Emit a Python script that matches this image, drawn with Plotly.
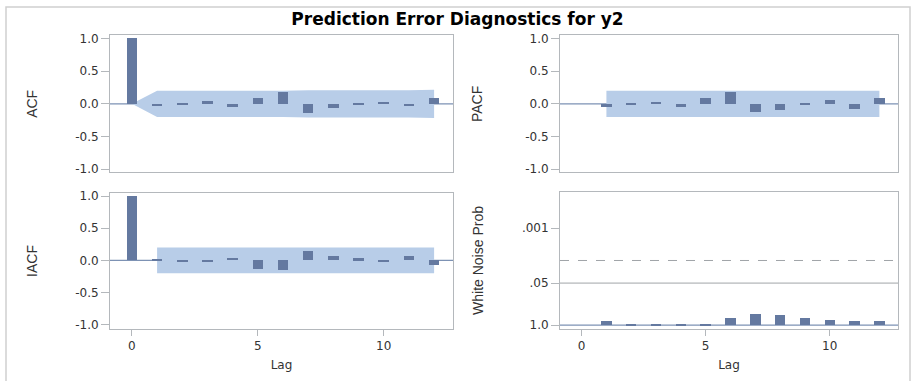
import plotly.graph_objects as go

lags = list(range(0, 13))
acf = [1.0, -0.045, -0.01, 0.04, -0.06, 0.08, 0.18, -0.14, -0.07, -0.01, 0.03, -0.04, 0.09]
acf_band = [0.0, 0.20, 0.20, 0.20, 0.20, 0.20, 0.20, 0.21, 0.21, 0.21, 0.21, 0.21, 0.215]
pacf_lags = list(range(1, 13))
pacf = [-0.05, -0.01, 0.03, -0.06, 0.08, 0.18, -0.13, -0.10, -0.03, 0.05, -0.08, 0.08]
pacf_band = [0.2] * 12
iacf = [1.0, 0.01, -0.02, -0.03, 0.04, -0.13, -0.15, 0.14, 0.07, 0.03, -0.03, 0.07, -0.07]
iacf_band = [0.2] * 12
wn_lags = list(range(1, 13))
wn_logp = [0.14, 0.03, 0.01, 0.01, 0.03, 0.22, 0.36, 0.32, 0.22, 0.17, 0.12, 0.14]
wn_tickvals = [3, 1.30103, 0]
wn_ticktext = [".001", ".05", "1.0"]
corr_ticks = [1.0, 0.5, 0.0, -0.5, -1.0]
corr_ticktext = ["1.0", "0.5", "0.0", "-0.5", "-1.0"]

BAR = "#6479a0"
BAND = "#b8cde8"
FRAME = "#b4b8bc"
ZERO = "#7d92b4"
TICKFONT = "DejaVu Sans, sans-serif"
TITLEFONT = "Liberation Sans, Arial, sans-serif"

W, H = 915, 381
def px(x): return x / W
def py(y): return 1 - y / H

fig = go.Figure()

def band(xs, ups, ax):
    pts = list(zip(xs, ups)) + list(zip(xs[::-1], [-u for u in ups[::-1]]))
    path = "M " + " L ".join(f"{x},{y}" for x, y in pts) + " Z"
    fig.add_shape(type="path", path=path, xref="x" + ax, yref="y" + ax,
                  fillcolor=BAND, line=dict(width=0), layer="below")

def bars(xs, ys, ax):
    fig.add_trace(go.Bar(x=xs, y=ys, width=0.42, marker=dict(color=BAR, line=dict(width=0)),
                         showlegend=False, xaxis="x" + ax, yaxis="y" + ax))

band(lags, acf_band, "")
band(pacf_lags, pacf_band, "2")
band(pacf_lags, iacf_band, "3")
for ax in ["", "2", "3", "4"]:
    fig.add_shape(type="line", xref=("x" + ax + " domain"), yref=("y" + ax),
                  x0=0, x1=1, y0=0, y1=0, line=dict(color=ZERO, width=1.2), layer="below")

bars(lags, acf, "")
bars(pacf_lags, pacf, "2")
bars(lags, iacf, "3")
bars(wn_lags, wn_logp, "4")

xr = [-0.87, 12.75]
common_x = dict(range=xr, showline=True, mirror=True, linecolor=FRAME, linewidth=1,
                showgrid=False, zeroline=False, tickvals=[0, 5, 10], ticktext=["0", "5", "10"],
                ticks="outside", ticklen=6, tickcolor=FRAME,
                tickfont=dict(family=TICKFONT, size=12, color="#333"))
common_y = dict(showline=True, mirror=True, linecolor=FRAME, linewidth=1, showgrid=False,
                zeroline=False, ticks="outside", ticklen=8, tickcolor=FRAME,
                tickfont=dict(family=TICKFONT, size=12, color="#333"))

top_dom = [py(172), py(32)]
bot_dom = [py(332), py(193)]
left_dom = [px(110), px(453)]
right_dom = [px(560), px(898)]

def ytitle(t, s):
    return dict(text=t, font=dict(family=TITLEFONT, size=14, color="#333"), standoff=s)

lagtitle = dict(text="Lag", font=dict(family=TICKFONT, size=12, color="#333"), standoff=8)

fig.update_layout(
    width=W, height=H, margin=dict(l=0, r=0, t=0, b=0),
    paper_bgcolor="white", plot_bgcolor="white", barmode="overlay", bargap=0,
    xaxis=dict(common_x, domain=left_dom, anchor="y", showticklabels=False, ticks=""),
    yaxis=dict(common_y, domain=top_dom, anchor="x", range=[-1.05, 1.05],
               tickvals=corr_ticks, ticktext=corr_ticktext, title=ytitle("ACF", 34)),
    xaxis2=dict(common_x, domain=right_dom, anchor="y2", showticklabels=False, ticks=""),
    yaxis2=dict(common_y, domain=top_dom, anchor="x2", range=[-1.05, 1.05],
                tickvals=corr_ticks, ticktext=corr_ticktext, title=ytitle("PACF", 39)),
    xaxis3=dict(common_x, domain=left_dom, anchor="y3", title=lagtitle),
    yaxis3=dict(common_y, domain=bot_dom, anchor="x3", range=[-1.07, 1.05],
                tickvals=corr_ticks, ticktext=corr_ticktext, title=ytitle("IACF", 34)),
    xaxis4=dict(common_x, domain=right_dom, anchor="y4", title=lagtitle),
    yaxis4=dict(common_y, domain=[py(332), py(192)], anchor="x4", range=[-0.12, 4.12],
                tickvals=wn_tickvals, ticktext=wn_ticktext, title=ytitle("White Noise Prob", 34)),
    title=dict(text="<b>Prediction Error Diagnostics for y2</b>", x=0.5, xanchor="center",
               y=py(19), yanchor="middle",
               font=dict(family="DejaVu Sans, sans-serif", size=17, color="black")),
)

fig.add_shape(type="line", xref="x4 domain", yref="y4", x0=0, x1=1, y0=1.30103, y1=1.30103,
              line=dict(color="#a0a4a8", width=1), layer="below")
fig.add_shape(type="line", xref="x4 domain", yref="y4", x0=0, x1=1, y0=2, y1=2,
              line=dict(color="#a0a4a8", width=1, dash="dash"), layer="below")
fig.add_shape(type="rect", xref="paper", yref="paper", x0=px(6), x1=px(910), y0=-0.05, y1=py(3),
              line=dict(color="#d0d0d0", width=1.5), layer="below")

fig.write_html("out.html")
